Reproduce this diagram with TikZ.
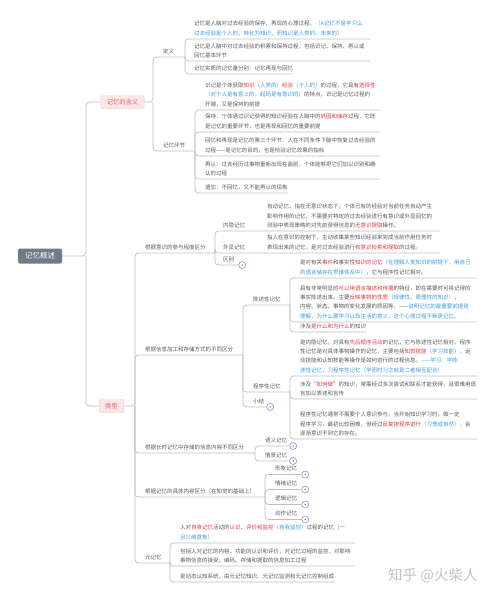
\documentclass[tikz,border=0pt]{standalone}
\usepackage{fontspec}
\setmainfont{Noto Sans CJK SC}
\definecolor{txtc}{HTML}{5A5A5A}
\definecolor{linec}{HTML}{B9C0C8}
\definecolor{hred}{HTML}{E4393C}
\definecolor{hblue}{HTML}{3C9BE0}
\definecolor{lvfill}{HTML}{FDE6E6}
\definecolor{lvtext}{HTML}{D4686B}
\definecolor{lvdraw}{HTML}{F3C8C8}
\definecolor{rootfill}{HTML}{6F7B8A}
\definecolor{circc}{HTML}{8C8FD6}
\definecolor{wmc}{HTML}{C4C4C4}
\newcommand{\redt}[1]{\textcolor{hred}{#1}}
\newcommand{\bluet}[1]{\textcolor{hblue}{#1}}
\tikzset{
  conn/.style={draw=linec, line width=0.7pt, rounded corners=3.5pt},
  txt/.style={font=\fontsize{5.5}{9.3}\selectfont, text=txtc, inner xsep=0pt, inner ysep=3pt, anchor=south west, align=left},
  rootbox/.style={font=\fontsize{7.5}{8}\selectfont, fill=rootfill, text=white, rounded corners=2pt, minimum width=44pt, minimum height=15pt, inner sep=1pt},
  lvl1/.style={font=\fontsize{6.3}{7}\selectfont, fill=lvfill, draw=lvdraw, line width=0.4pt, text=lvtext, rounded corners=2pt, minimum height=13pt, inner xsep=6pt, inner ysep=1pt},
  collapse/.style={circle, draw=circc, fill=white, line width=0.6pt, minimum size=7pt, inner sep=0pt},
}
\begin{document}
\begin{tikzpicture}[x=1pt,y=-1pt]
\useasboundingbox (0,0) rectangle (494,600);
\fill[white] (0,0) rectangle (494,600);

% root and first level
\node[rootbox] (root) at (40,256) {记忆概述};
\node[lvl1] (K1) at (122.5,102) {记忆的含义};
\node[lvl1] (K2) at (111.5,406) {类型};
\coordinate (rX) at (86,256);
\draw[conn] (root.east) -- (rX) |- (K1.west);
\draw[conn] (rX) |- (K2.west);

% ---------------- 记忆的含义 ----------------
\coordinate (k1X) at (153,102);
\node[txt] (def) at (163,57) {定义};
\coordinate (defX) at (185,57);
\node[txt] (hj) at (163,151) {记忆环节};
\coordinate (hjX) at (195,151);
\draw[conn] (K1.east) -- (k1X) |- (def.south west) -- (defX);
\draw[conn] (k1X) |- (hj.south west) -- (hjX);

\node[txt, text width=176pt] (d1) at (194,39) {记忆是人脑对过去经验的保存、再现的心理过程。\bluet{（A记忆不是学习么}\\\bluet{过去经验是个人的，转化为知识，而知识是人类的、未来的）}};
\node[txt, text width=176pt] (d2) at (194,61) {记忆是人脑中对过去经验的积累和保持过程，包括识记、保持、再认或\\回忆基本环节};
\node[txt] (d3) at (194,74) {记忆实质的记忆量分别：记忆再现与回忆};
\foreach \n in {d1,d2,d3} \draw[conn] (defX) |- (\n.south west) -- (\n.south east);

\node[txt, text width=175pt] (h1) at (205,110) {识记是个体获取\redt{知识}\bluet{（人类的）}\redt{经验}\bluet{（个人的）}的过程，它具有\redt{选择性}\\\bluet{（对个人是有意义的，起码是有意识的）}的特点，识记是记忆过程的\\开端，又是保持的前提};
\node[txt, text width=175pt] (h2) at (205,132) {保持：个体通过识记获得的知识经验在人脑中的\redt{巩固和储存}过程，它既\\是记忆的重要环节，也是再现和回忆的重要前提};
\node[txt, text width=175pt] (h3) at (205,156) {回忆和再现是记忆的第三个环节：人在不同条件下脑中恢复过去经验的\\过程——是记忆的目的，也是检验记忆效果的指标};
\node[txt, text width=175pt] (h4) at (205,179) {再认：过去经历过事物重新出现在面前，个体能够把它们加以识别和确\\认的过程};
\node[txt] (h5) at (205,193) {遗忘：不回忆，又不能再认的现象};
\foreach \n in {h1,h2,h3,h4,h5} \draw[conn] (hjX) |- (\n.south west) -- (\n.south east);

% ---------------- 类型 ----------------
\coordinate (k2X) at (135,406);
\node[txt] (a1) at (145,253) {根据意识的参与程度区分};
\coordinate (a1X) at (215,253);
\node[txt] (a2) at (145,355) {根据信息加工和存储方式的不同区分};
\coordinate (a2X) at (243,355);
\node[txt] (a3) at (145,453) {根据长时记忆中存储的信息内容不同区分};
\coordinate (a3X) at (255,453);
\node[txt] (a4) at (145,497) {根据记忆的具体内容区分（在知觉的基础上）};
\coordinate (a4X) at (265,497);
\node[txt] (a5) at (145,563) {元记忆};
\coordinate (a5X) at (170,563);
\draw[conn] (K2.east) -- (k2X) |- (a1.south west) -- (a1X);
\foreach \n/\m in {a2/a2X,a3/a3X,a4/a4X,a5/a5X} \draw[conn] (k2X) |- (\n.south west) -- (\m);

% a1 children
\node[txt] (nei) at (223,231) {内隐记忆};
\node[txt, text width=173pt] (neiT) at (267,231) {自动记忆，指在无意识状态下，个体已有的经验对当前任务自动产生\\影响作用的记忆，不需要对特定的过去经验进行有意识或外显回忆的\\测验中表现策略的对先前获得信息的\redt{无意识提取}操作。};
\node[txt] (wai) at (223,253) {外显记忆};
\node[txt, text width=173pt] (waiT) at (267,253) {指人在意识的控制下，主动收集某些知识经验来完成当前作用任务时\\表现出来的记忆，是对过去经验进行\redt{有意识检索和提取}的过程。};
\node[txt] (qb) at (223,265) {区别};
\node[collapse, anchor=west] (qbc) at ([xshift=4pt]qb.south east) {};
\fill[circc] (qbc.center) circle (0.9pt);
\draw[conn] (a1X) |- (nei.south west) -- (neiT.south east);
\draw[conn] (a1X) |- (wai.south west) -- (waiT.south east);
\draw[conn] (a1X) |- (qb.south west) -- (qbc.west);

% a2 children
\node[txt] (cs) at (253,305) {陈述性记忆};
\coordinate (csX) at (290,305);
\node[txt] (cx) at (253,392) {程序性记忆};
\coordinate (cxX) at (290,392);
\node[txt] (xj) at (253,407) {小结};
\node[collapse, anchor=west] (xjc) at ([xshift=2pt]xj.south east) {};
\fill[circc] (xjc.center) circle (0.9pt);
\draw[conn] (a2X) |- (cs.south west) -- (csX);
\draw[conn] (a2X) |- (cx.south west) -- (cxX);
\draw[conn] (a2X) |- (xj.south west) -- (xjc.west);

\node[txt, text width=177pt] (c1) at (300,278) {是对有关\redt{事件}和事实性\redt{知识的记忆}\bluet{（在理解人类知识的前提下，用自己}\\\bluet{的语言储存在思维体系中）}，它与程序性记忆相对。};
\node[txt, text width=177pt] (c2) at (300,322) {具有非常明显的\redt{可以用语言描述和传播}的特征，即在需要时可将记得的\\事实陈述出来。主要\redt{反映事物的性质}\bluet{（规律性、原理性的知识）}，\\内容、状态、事物的变化发展的原因等。——\bluet{说明记忆的最重要前提是}\\\bluet{理解，为什么要学习以及生活的意义，这个心理过程不断更记忆。}};
\node[txt] (c3) at (300,332) {涉及\redt{是什么和为什么}的知识};
\foreach \n in {c1,c2,c3} \draw[conn] (csX) |- (\n.south west) -- (\n.south east);

\node[txt, text width=177pt] (p1) at (300,376) {是内隐记忆，对具有\redt{先后顺序活动}的记忆，它与陈述性记忆相对。程序\\性记忆是对具体事物操作的记忆，主要包括\redt{知觉技能}\bluet{（学习技能）}，运\\动技能和认知技能等操作是如何进行的过程信息。\bluet{——学习：学陈}\\\bluet{述性记忆，习程序性记忆（学而时习之就是二者相互配合）}};
\node[txt, text width=177pt] (p2) at (300,399) {涉及\redt{“如何做”}的知识，常需经过多次尝试和联系才能获得，且很难用语\\言加以表述和言传};
\node[txt, text width=177pt] (p3) at (300,439) {程序性记忆通常不需要个人意识参与，当开始知识学习时，做一定\\程序学习，最初比较困难，但经过\redt{反复按程序进行}\bluet{（习惯成自然）}，会\\逐渐意识不到它的存在。};
\foreach \n in {p1,p2,p3} \draw[conn] (cxX) |- (\n.south west) -- (\n.south east);

% a3 children
\node[txt] (yy) at (265,446) {语义记忆};
\node[collapse, anchor=west] (yyc) at ([xshift=2pt]yy.south east) {};
\node[txt] (qj) at (265,461) {情景记忆};
\node[collapse, anchor=west] (qjc) at ([xshift=2pt]qj.south east) {};
\foreach \n in {yy,qj} {
  \fill[circc] (\n c.center) circle (0.9pt);
  \draw[conn] (a3X) |- (\n.south west) -- (\n c.west);
}

% a4 children
\node[txt] (xx) at (275,474.5) {形象记忆};
\node[txt] (qx) at (275,489.5) {情绪记忆};
\node[txt] (lj) at (275,504.5) {逻辑记忆};
\node[txt] (dz) at (275,519.5) {动作记忆};
\foreach \n in {xx,qx,lj,dz} {
  \node[collapse, anchor=west] (\n c) at ([xshift=4pt]\n.south east) {};
  \fill[circc] (\n c.center) circle (0.9pt);
  \draw[conn] (a4X) |- (\n.south west) -- (\n c.west);
}

% a5 children
\node[txt, text width=175pt] (m1) at (180,543) {人对\redt{自身记忆}活动的\redt{认识}、\redt{评价和监控}\bluet{（自我监控）}过程的记忆\bluet{（一}\\\bluet{旦三维意象）}};
\node[txt, text width=175pt] (m2) at (180,566) {包括人对记忆的内容、功能的认识和评价，对记忆过程的监控，对影响\\事物信息的接受、编码、存储和提取的信息加工过程};
\node[txt] (m3) at (180,582) {是动态认知系统，由元记忆知识、元记忆监测和元记忆控制组成};
\foreach \n in {m1,m2,m3} \draw[conn] (a5X) |- (\n.south west) -- (\n.south east);

% watermark
\node[font=\fontsize{14.5}{15}\selectfont, text=wmc, anchor=west, inner sep=0pt] (wm) at (388,576) {知乎 @火柴人};
\end{tikzpicture}
\end{document}
